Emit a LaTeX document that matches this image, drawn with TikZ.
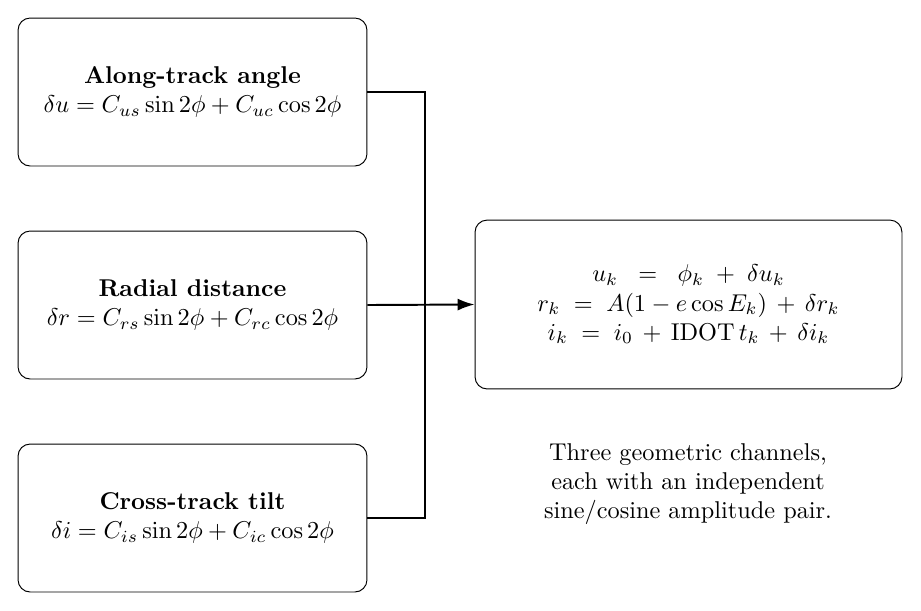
\documentclass[tikz,border=0pt]{standalone}
\usetikzlibrary{arrows.meta}
\begin{document}
\begin{tikzpicture}[x=0.41152pt,y=-0.41152pt,
  srcbox/.style={draw, line width=0.4pt, rounded corners=5pt, align=center,
    minimum width=143.6pt, minimum height=60.9pt, inner sep=0pt},
  outbox/.style={draw, line width=0.4pt, rounded corners=5pt, align=center,
    minimum width=175.7pt, minimum height=69.5pt, inner sep=0pt},
  conn/.style={line width=0.8pt},
  note/.style={align=center, inner sep=0pt}]
\useasboundingbox (0,0) rectangle (921,610);
\node[srcbox] (b1) at (192.5,92) {\textbf{Along-track angle}\\ $\delta u = C_{us}\sin 2\phi + C_{uc}\cos 2\phi$};
\node[srcbox] (b2) at (192.5,305) {\textbf{Radial distance}\\ $\delta r = C_{rs}\sin 2\phi + C_{rc}\cos 2\phi$};
\node[srcbox] (b3) at (192.5,518) {\textbf{Cross-track tilt}\\ $\delta i = C_{is}\sin 2\phi + C_{ic}\cos 2\phi$};
\node[outbox] (out) at (688.5,304.5) {$u_k \;\;=\;\; \phi_k \;+\; \delta u_k$\\
  $r_k \;=\; A(1 - e\cos E_k) \,+\, \delta r_k$\\
  $i_k \;=\; i_0 \,+\, \mathrm{IDOT}\, t_k \,+\, \delta i_k$};
\node[note] (cap) at (688,484) {Three geometric channels,\\ each with an independent\\ sine/cosine amplitude pair.};
\coordinate (j) at (425,305);
\draw[conn] (b1.east) -| (j);
\draw[conn] (b3.east) -| (j);
\draw[conn, -{Latex[length=7pt,width=5pt]}] (b2.east) -- (out.west);
\end{tikzpicture}
\end{document}
